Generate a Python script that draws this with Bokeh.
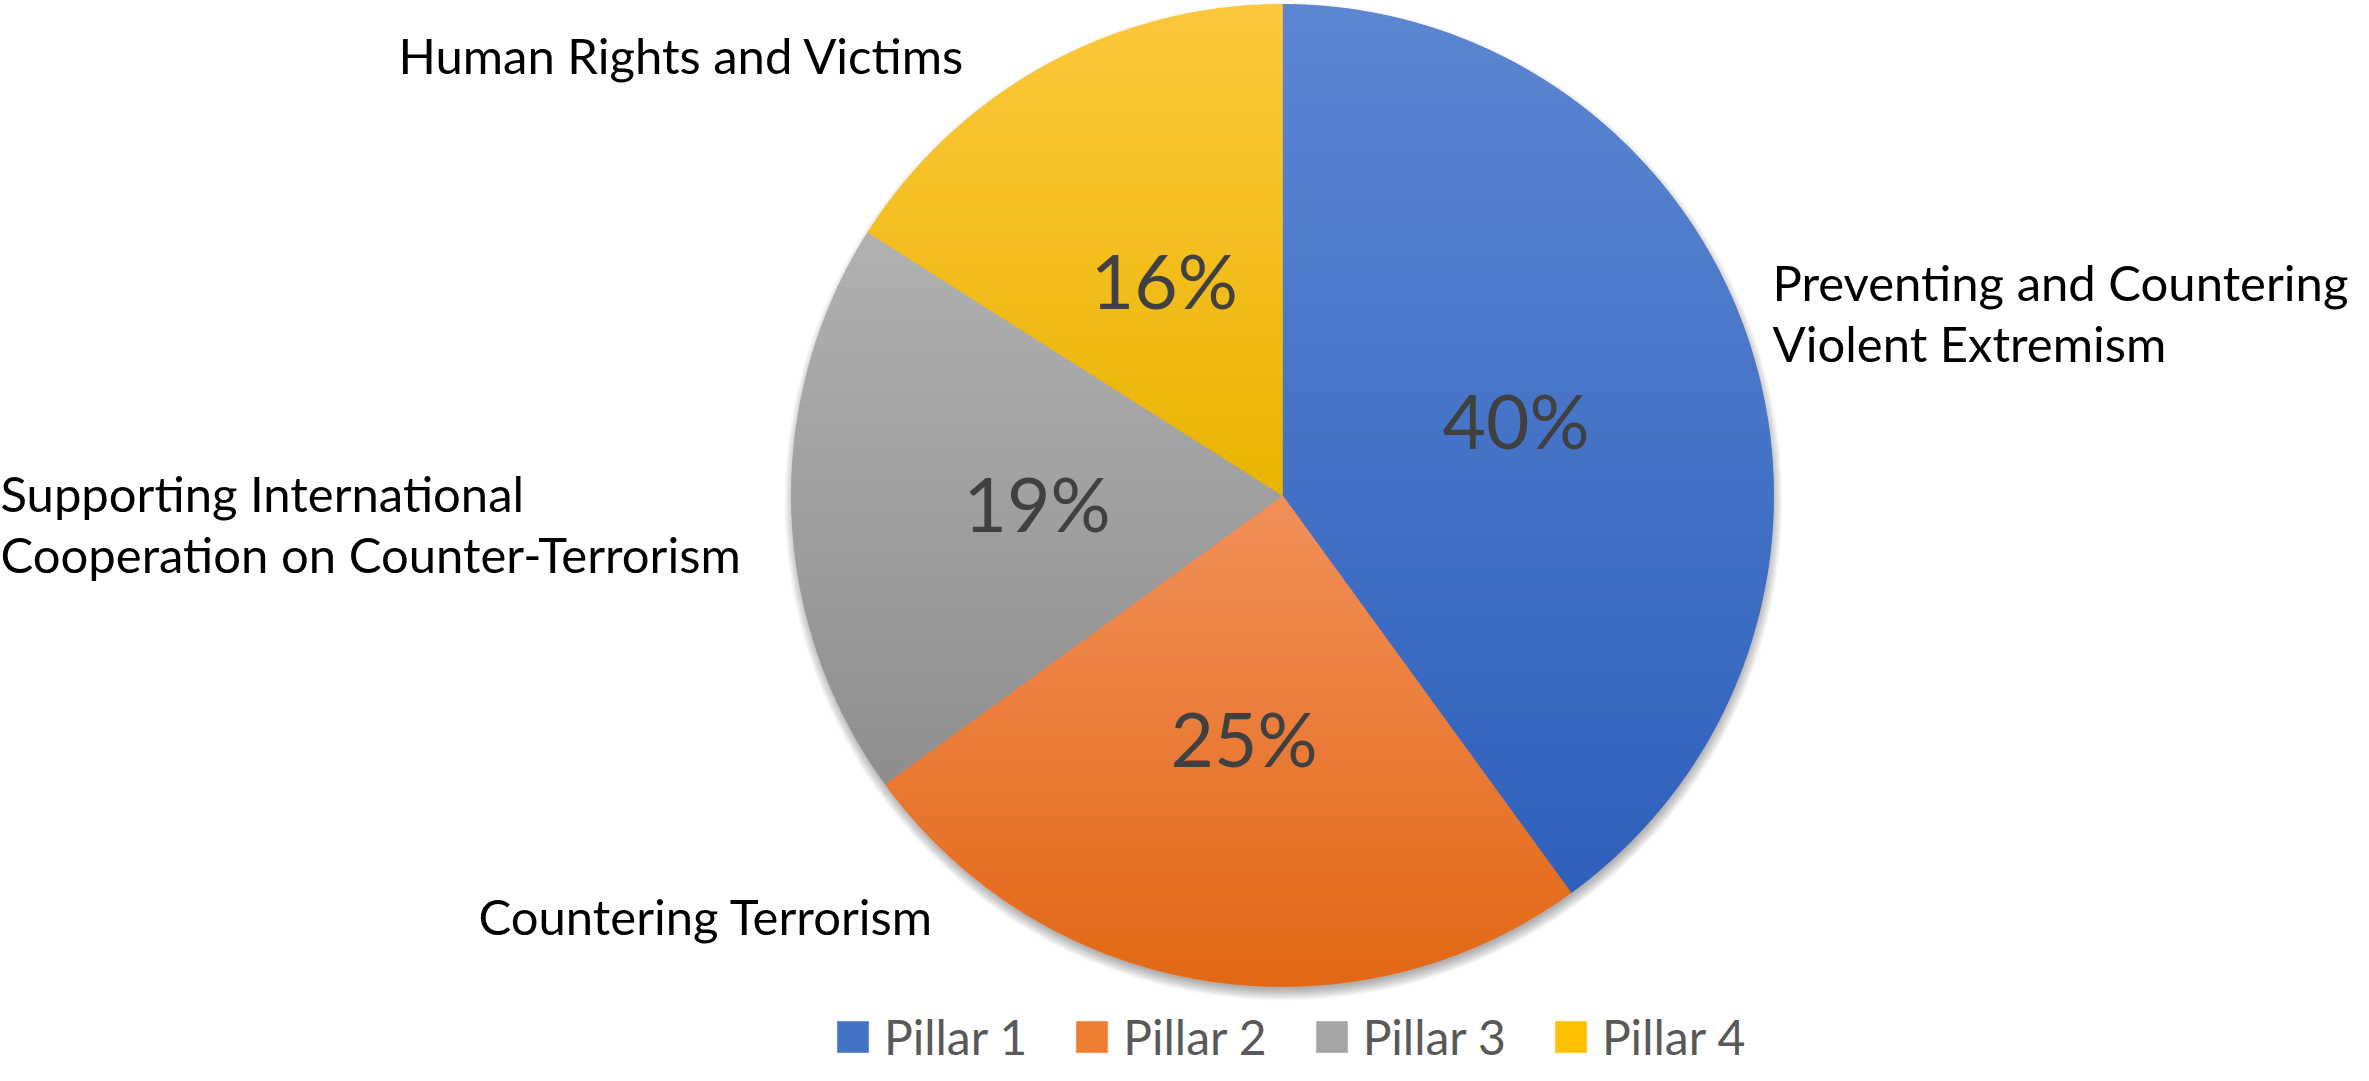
import math
from bokeh.plotting import figure
from bokeh.models import Range1d, ColumnDataSource, Legend, LegendItem
from bokeh.core.properties import value
from bokeh.embed import file_html
from bokeh.resources import INLINE

# ---------------- data ----------------
pillars = ["Pillar 1", "Pillar 2", "Pillar 3", "Pillar 4"]
categories = [
    "Preventing and Countering\nViolent Extremism",
    "Countering Terrorism",
    "Supporting International\nCooperation on Counter-Terrorism",
    "Human Rights and Victims",
]
shares = [40, 25, 19, 16]

# ---------------- styles / layout ----------------
base_colors = ["#4472C4", "#ED7D31", "#A5A5A5", "#FFC000"]
top_colors = ["#5C86D1", "#F2905A", "#B1B1B1", "#FFC83E"]
bot_colors = ["#2E60BC", "#E26815", "#8E8E8E", "#E8B400"]
FONT = "Lato"

W, H = 2353, 1065            # figure size in screen pixels
TOP = 1081                   # data y = TOP - screen y ; data x = screen x

CX, CY, R = 1282, TOP - 495, 491
# outside category label anchors (left x, centre of first line y), data space
label_anchor = [(1772, TOP - 281), (478, TOP - 915), (0, TOP - 492), (398, TOP - 54)]
LINE_GAP = 61

p = figure(width=W, height=H, output_backend="svg", toolbar_location=None,
           x_range=Range1d(0, W), y_range=Range1d(TOP - H, TOP), min_border=0)
p.axis.visible = False
p.grid.visible = False
p.outline_line_color = None
p.background_fill_color = "white"
p.border_fill_color = "white"

# soft shadow
for k in range(12):
    p.circle(x=[CX + 1], y=[CY - 6], radius=R - 3 + k, fill_color="black",
             fill_alpha=0.026, line_color=None)

# angles from data
total = float(sum(shares))
starts, ends, mids = [], [], []
cum = 0.0
for s in shares:
    a0 = math.pi / 2 - 2 * math.pi * cum / total
    cum += s
    a1 = math.pi / 2 - 2 * math.pi * cum / total
    starts.append(a0)
    ends.append(a1)
    mids.append((a0 + a1) / 2)

src = ColumnDataSource(dict(pillar=pillars, start=starts, end=ends,
                            color=base_colors, share=shares))
wr = p.wedge(x=CX, y=CY, radius=R, start_angle="start", end_angle="end",
             direction="clock", fill_color="color", line_color="color",
             line_width=0.5, source=src)


# vertical gradient overlay: clip each wedge polygon into horizontal bands
def wedge_poly(a0, a1, n=240):
    pts = [(CX, CY)]
    for i in range(n + 1):
        a = a0 + (a1 - a0) * i / n
        pts.append((CX + R * math.cos(a), CY + R * math.sin(a)))
    return pts


def clip(poly, yv, keep_above):
    out = []
    m = len(poly)
    for i in range(m):
        cur = poly[i]
        prv = poly[i - 1]
        cin = cur[1] >= yv if keep_above else cur[1] <= yv
        pin = prv[1] >= yv if keep_above else prv[1] <= yv
        if cin:
            if not pin:
                t = (yv - prv[1]) / (cur[1] - prv[1])
                out.append((prv[0] + t * (cur[0] - prv[0]), yv))
            out.append(cur)
        elif pin:
            t = (yv - prv[1]) / (cur[1] - prv[1])
            out.append((prv[0] + t * (cur[0] - prv[0]), yv))
    return out


def hex2rgb(h):
    h = h.lstrip("#")
    return tuple(int(h[i:i + 2], 16) for i in (0, 2, 4))


xs, ys, cols = [], [], []
NB = 60
for i in range(len(shares)):
    poly = wedge_poly(starts[i], ends[i])
    ymin = min(q[1] for q in poly)
    ymax = max(q[1] for q in poly)
    c0, c1 = hex2rgb(top_colors[i]), hex2rgb(bot_colors[i])
    for b in range(NB):
        yhi = ymax - (ymax - ymin) * b / NB
        ylo = ymax - (ymax - ymin) * (b + 1) / NB
        part = clip(clip(poly, ylo, True), yhi, False)
        if len(part) < 3:
            continue
        t = (b + 0.5) / NB
        c = tuple(int(round(c0[j] + (c1[j] - c0[j]) * t)) for j in range(3))
        xs.append([q[0] for q in part])
        ys.append([q[1] for q in part])
        cols.append("#%02x%02x%02x" % c)
p.patches(xs="xs", ys="ys", fill_color="cols", line_color="cols", line_width=0.6,
          source=ColumnDataSource(dict(xs=xs, ys=ys, cols=cols)))

# percentage labels at half radius along the mid angle
pct_src = ColumnDataSource(dict(
    x=[CX + 0.5 * R * math.cos(a) for a in mids],
    y=[CY + 0.5 * R * math.sin(a) for a in mids],
    t=["%d%%" % s for s in shares]))
p.text(x="x", y="y", text="t", source=pct_src, text_font=value(FONT),
       text_font_size="75px", text_color="#404040",
       text_align="center", text_baseline="middle")

# outside category labels
lx, ly, lt = [], [], []
for cat, (ax, ay) in zip(categories, label_anchor):
    for j, line in enumerate(cat.split("\n")):
        lx.append(ax)
        ly.append(ay - j * LINE_GAP)
        lt.append(line)
p.text(x="x", y="y", text="t", source=ColumnDataSource(dict(x=lx, y=ly, t=lt)),
       text_font=value(FONT), text_font_size="49px", text_color="#000000",
       text_align="left", text_baseline="middle")

# legend
items = [LegendItem(label=pl, renderers=[wr], index=i) for i, pl in enumerate(pillars)]
legend = Legend(items=items, orientation="horizontal", location=(833, 0),
                glyph_width=39, glyph_height=39, label_standoff=12, spacing=45,
                label_height=39, label_text_font=FONT, label_text_font_size="48px",
                label_text_color="#595959", padding=0, margin=0,
                border_line_alpha=0, background_fill_alpha=0)
p.add_layout(legend)

open("out.html", "w").write(file_html(p, INLINE))
